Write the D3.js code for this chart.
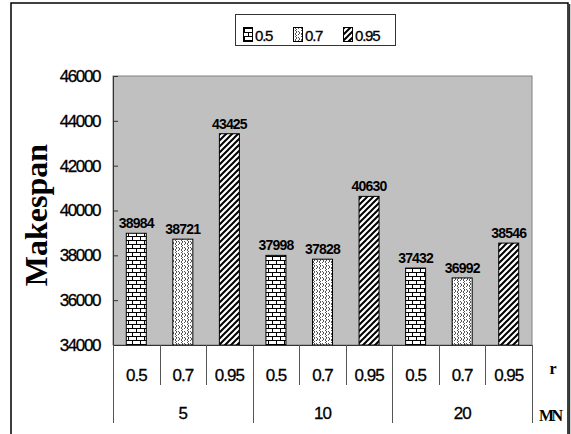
<!DOCTYPE html>
<html><head><meta charset="utf-8">
<script src="https://cdn.jsdelivr.net/npm/d3@7"></script>
<style>
html,body{margin:0;padding:0;background:#fff;}
svg{display:block;font-family:"Liberation Sans",Arial,sans-serif;}
</style></head>
<body>
<div id="chart"></div>
<script>
const groups = ["5", "10", "20"];
const rLabels = ["0.5", "0.7", "0.95"];
const makespanR05 = [38984, 37998, 37432];
const makespanR07 = [38721, 37828, 36992];
const makespanR095 = [43425, 40630, 38546];
const yTicks = [34000, 36000, 38000, 40000, 42000, 44000, 46000];

const W = 571, H = 434;
const SANS = "'Liberation Sans',Arial,sans-serif";
const SERIF = "'Liberation Serif','Times New Roman',serif";
const svg = d3.select("#chart").append("svg").attr("width", W).attr("height", H);
const defs = svg.append("defs");

// patterns
const p1 = defs.append("pattern").attr("id", "pBrick").attr("patternUnits", "userSpaceOnUse").attr("width", 8).attr("height", 8);
p1.append("rect").attr("width", 8).attr("height", 8).attr("fill", "#fff");
p1.append("path").attr("d", "M0,0.5H8M0,4.5H8M0.5,0V4.5M4.5,4.5V8").attr("stroke", "#000").attr("stroke-width", 1).attr("fill", "none");

const p2 = defs.append("pattern").attr("id", "pWave").attr("patternUnits", "userSpaceOnUse").attr("width", 6).attr("height", 6);
p2.append("rect").attr("width", 6).attr("height", 6).attr("fill", "#fff");
p2.append("path").attr("d", "M1,0L3,2L1,4L3,6M4,1L6,3M4,5L6,3").attr("stroke", "#555").attr("stroke-width", 1).attr("fill", "none");

const p3 = defs.append("pattern").attr("id", "pDiag").attr("patternUnits", "userSpaceOnUse").attr("width", 6).attr("height", 6);
p3.append("rect").attr("width", 6).attr("height", 6).attr("fill", "#fff");
p3.append("path").attr("d", "M-1.5,1.5L1.5,-1.5M0,6L6,0M4.5,7.5L7.5,4.5").attr("stroke", "#000").attr("stroke-width", 2);

const fills = ["url(#pBrick)", "url(#pWave)", "url(#pDiag)"];

// outer border
svg.append("rect").attr("x", 11).attr("y", 3).attr("width", 557).attr("height", 460)
  .attr("fill", "none").attr("stroke", "#000").attr("stroke-width", 1.5);
svg.append("line").attr("x1", 569.5).attr("x2", 569.5).attr("y1", 4).attr("y2", H).attr("stroke", "#333").attr("stroke-width", 1.5);

const plot = {l: 113, t: 76, r: 532, b: 345};
const slots = [];
groups.forEach((g, gi) => rLabels.forEach((r, ri) => {
  const vals = [makespanR05, makespanR07, makespanR095][ri];
  slots.push({key: g + "_" + r, g, r, ri, gi, v: vals[gi]});
}));

const x = d3.scaleBand().domain(slots.map(d => d.key)).range([plot.l, plot.r]).padding(0);
const y = d3.scaleLinear().domain([34000, 46000]).range([plot.b, plot.t]);

svg.append("rect").attr("x", plot.l).attr("y", plot.t).attr("width", plot.r - plot.l).attr("height", plot.b - plot.t)
  .attr("fill", "#c0c0c0").attr("stroke", "#808080").attr("stroke-width", 1);

// y axis
const yAxis = d3.axisLeft(y).tickValues(yTicks).tickFormat(d3.format("d")).tickSizeInner(-5).tickSizeOuter(0).tickPadding(13);
const ya = svg.append("g").attr("transform", `translate(${plot.l},0)`).call(yAxis);
ya.select(".domain").attr("stroke", "#333");
ya.selectAll(".tick line").attr("stroke", "#333");
ya.selectAll(".tick text").style("font-size", "17px").style("letter-spacing", "-1.4px").attr("fill", "#000")
  .attr("stroke", "#000").attr("stroke-width", 0.3)
  .style("font-family", SANS);

// bars
const bw = 20;
svg.append("g").selectAll("rect").data(slots).join("rect")
  .attr("x", d => x(d.key) + x.bandwidth() / 2 - bw / 2)
  .attr("y", d => y(d.v))
  .attr("width", bw)
  .attr("height", d => y(34000) - y(d.v))
  .attr("fill", d => fills[d.ri])
  .attr("stroke", "#000").attr("stroke-width", 1);

svg.append("g").selectAll("text").data(slots).join("text")
  .attr("x", d => x(d.key) + x.bandwidth() / 2)
  .attr("y", d => y(d.v) - 5)
  .attr("text-anchor", "middle").style("font-size", "14px").style("font-weight", "bold").style("letter-spacing", "-0.8px")
  .style("font-family", SANS)
  .text(d => d.v);

// x axis line
svg.append("line").attr("x1", plot.l).attr("x2", plot.r).attr("y1", plot.b + 0.5).attr("y2", plot.b + 0.5).attr("stroke", "#333");

// category table
const xAxis = d3.axisBottom(x).tickSize(0).tickFormat(k => slots.find(s => s.key === k).r);
const xa = svg.append("g").attr("transform", `translate(0,${plot.b})`).call(xAxis);
xa.select(".domain").remove();
xa.selectAll(".tick text").style("font-size", "17px").attr("dy", 0).attr("y", 36).style("letter-spacing", "-1px").attr("fill", "#000")
  .attr("stroke", "#000").attr("stroke-width", 0.3)
  .style("font-family", SANS);

// separators
slots.forEach((d, i) => {
  if (i === 0) return;
  const xx = Math.round(x(d.key)) + 0.5;
  const outer = d.ri === 0;
  svg.append("line").attr("x1", xx).attr("x2", xx).attr("y1", plot.b).attr("y2", outer ? 423 : 385).attr("stroke", "#555");
});
[plot.l, plot.r].forEach(v => {
  svg.append("line").attr("x1", v + 0.5).attr("x2", v + 0.5).attr("y1", plot.b).attr("y2", 423).attr("stroke", "#555");
});

// group labels
groups.forEach((g, gi) => {
  const x0 = x(g + "_" + rLabels[0]), x1 = x(g + "_" + rLabels[2]) + x.bandwidth();
  svg.append("text").attr("x", (x0 + x1) / 2).attr("y", 419).attr("text-anchor", "middle")
    .attr("stroke", "#000").attr("stroke-width", 0.3)
    .style("font-size", "17px").style("letter-spacing", "-1px").style("font-family", SANS).text(g);
});

// axis titles
svg.append("text").attr("x", 553).attr("y", 374).attr("text-anchor", "middle")
  .style("font-family", SERIF).style("font-weight", "bold").style("font-size", "16px").text("r");
svg.append("text").attr("x", 539).attr("y", 421)
  .style("font-family", SERIF).style("font-weight", "bold").style("font-size", "16px").style("letter-spacing", "-2.5px").text("MN");

svg.append("text").attr("transform", "translate(47,215) rotate(-90)").attr("text-anchor", "middle")
  .style("font-family", SERIF).style("font-weight", "bold").style("font-size", "32px").text("Makespan");

// legend
const lg = svg.append("g");
lg.append("rect").attr("x", 235.5).attr("y", 14.5).attr("width", 160).attr("height", 31).attr("fill", "#fff").attr("stroke", "#333");
const lx = [243, 293, 343];
rLabels.forEach((r, i) => {
  lg.append("rect").attr("x", lx[i] + 0.5).attr("y", 27.5).attr("width", 9).attr("height", 14).attr("fill", fills[i]).attr("stroke", "#000");
  lg.append("text").attr("x", lx[i] + 12).attr("y", 41).style("font-size", "15px").style("letter-spacing", "-1.2px")
    .attr("stroke", "#000").attr("stroke-width", 0.3)
    .style("font-family", SANS).text(r);
});
</script>
</body></html>
